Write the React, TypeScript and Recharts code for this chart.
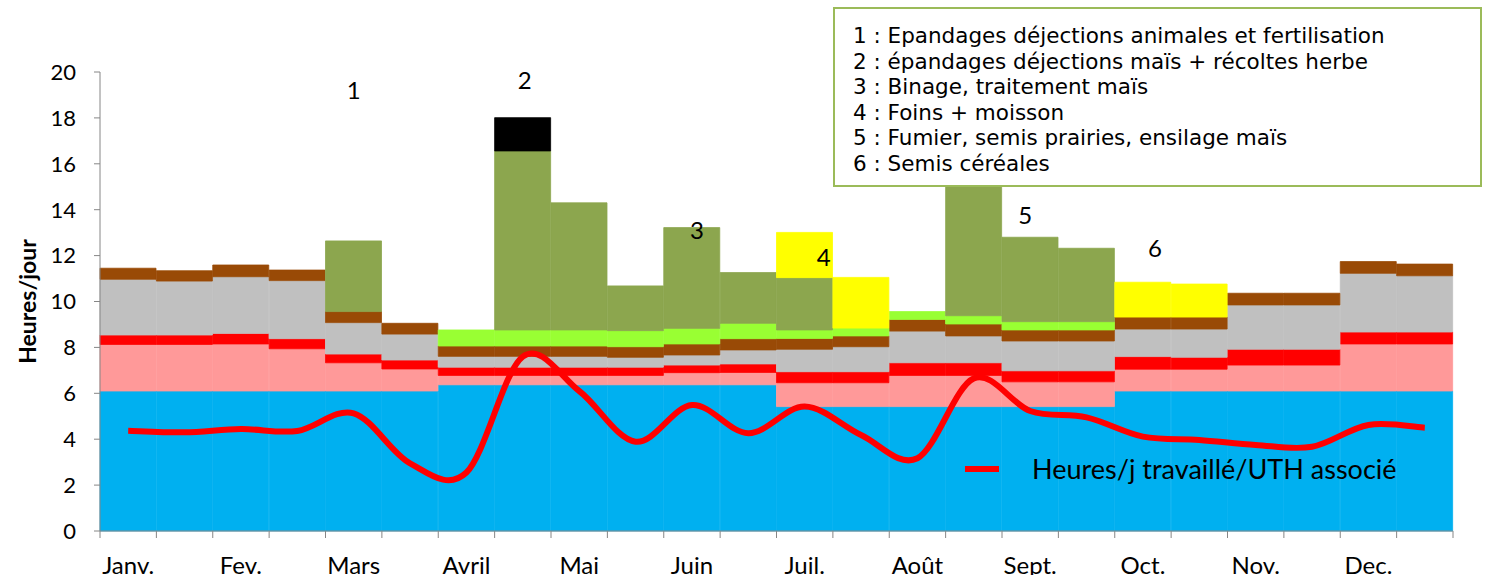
import React from 'react';
import { ComposedChart, Bar, Line, XAxis, YAxis, Legend, ReferenceDot } from 'recharts';

// half-month periods, one bar each
const months = ['Janv.', 'Fev.', 'Mars', 'Avril', 'Mai', 'Juin', 'Juil.', 'Août', 'Sept.', 'Oct.', 'Nov.', 'Dec.'];
const periods = months.flatMap((m) => [`${m} 1`, `${m} 2`]);

// stacked layers, bottom to top (hours/day)
const blueLayer = [6.1, 6.1, 6.1, 6.1, 6.1, 6.1, 6.37, 6.37, 6.37, 6.37, 6.37, 6.37, 5.42, 5.42, 5.42, 5.42, 5.42, 5.42, 6.1, 6.1, 6.1, 6.1, 6.1, 6.1];
const pinkLayer = [2.03, 2.03, 2.05, 1.84, 1.23, 0.96, 0.41, 0.41, 0.41, 0.41, 0.53, 0.54, 1.04, 1.04, 1.36, 1.36, 1.08, 1.08, 0.95, 0.95, 1.13, 1.13, 2.05, 2.05];
const redLayer = [0.41, 0.41, 0.46, 0.44, 0.38, 0.39, 0.36, 0.36, 0.36, 0.36, 0.33, 0.37, 0.48, 0.48, 0.55, 0.55, 0.48, 0.48, 0.55, 0.52, 0.69, 0.69, 0.52, 0.52];
const grayLayer = [2.43, 2.35, 2.47, 2.53, 1.37, 1.13, 0.47, 0.47, 0.47, 0.43, 0.44, 0.61, 0.98, 1.09, 1.38, 1.17, 1.3, 1.3, 1.2, 1.23, 1.93, 1.93, 2.56, 2.45];
const brownLayer = [0.48, 0.45, 0.51, 0.46, 0.48, 0.47, 0.45, 0.45, 0.45, 0.46, 0.48, 0.49, 0.47, 0.47, 0.51, 0.52, 0.48, 0.48, 0.52, 0.52, 0.51, 0.51, 0.51, 0.51];
const limeLayer = [0, 0, 0, 0, 0, 0, 0.7, 0.7, 0.7, 0.7, 0.68, 0.67, 0.37, 0.34, 0.34, 0.36, 0.36, 0.36, 0, 0, 0, 0, 0, 0];
const oliveLayer = [0, 0, 0, 0, 3.08, 0, 0, 7.8, 5.54, 1.95, 4.39, 2.21, 2.28, 0, 0, 7.42, 3.68, 3.2, 0, 0, 0, 0, 0, 0];
const yellowLayer = [0, 0, 0, 0, 0, 0, 0, 0, 0, 0, 0, 0, 1.97, 2.21, 0, 0, 0, 0, 1.52, 1.44, 0, 0, 0, 0];
const blackLayer = [0, 0, 0, 0, 0, 0, 0, 1.45, 0, 0, 0, 0, 0, 0, 0, 0, 0, 0, 0, 0, 0, 0, 0, 0];

const uthHours = [4.37, 4.3, 4.44, 4.36, 5.13, 2.95, 2.55, 7.6, 6.1, 3.89, 5.49, 4.26, 5.42, 4.18, 3.17, 6.65, 5.23, 4.95, 4.11, 3.97, 3.75, 3.67, 4.62, 4.5];

const yTicks = [0, 2, 4, 6, 8, 10, 12, 14, 16, 18, 20];

// numbered work peaks
const peakLabels = ['1', '2', '3', '4', '5', '6'];
const peakPeriods = [4, 7, 10, 12, 16, 18];
const peakLevels = [19.2, 19.65, 13.1, 11.9, 13.75, 12.3];
const peakNudge = [0, 2, 5, 19, -5, 12];

const notes = [
  '1 : Epandages déjections animales et fertilisation',
  '2 : épandages déjections maïs + récoltes herbe',
  '3 : Binage, traitement maïs',
  '4 : Foins + moisson',
  '5 : Fumier, semis prairies, ensilage maïs',
  '6 : Semis céréales',
];

const data = periods.map((p, i) => ({
  period: p,
  blue: blueLayer[i],
  pink: pinkLayer[i],
  red: redLayer[i],
  gray: grayLayer[i],
  brown: brownLayer[i],
  lime: limeLayer[i],
  olive: oliveLayer[i],
  yellow: yellowLayer[i],
  black: blackLayer[i],
  uth: uthHours[i],
}));

const layers = [
  { key: 'blue', color: '#00B0F0' },
  { key: 'pink', color: '#FF9999' },
  { key: 'red', color: '#FF0000' },
  { key: 'gray', color: '#C0C0C0' },
  { key: 'brown', color: '#994A06' },
  { key: 'lime', color: '#99FF33' },
  { key: 'olive', color: '#8CA64E' },
  { key: 'yellow', color: '#FFFF00' },
  { key: 'black', color: '#000000' },
];

const W = 1489;
const H = 575;
const LEFT = 100;
const RIGHT = 36;
const PLOT_W = W - LEFT - RIGHT;
const BAND = PLOT_W / periods.length;
const TICK_SIZE = 7;
const TICK_MARGIN = 17;
const AXIS_GRAY = '#868686';
const FONT = 'Lato, "Open Sans", sans-serif';

// Excel-like smoothed line (Catmull-Rom as bezier)
function excelSmooth(context: any) {
  let pts: number[][] = [];
  return {
    areaStart() {},
    areaEnd() {},
    lineStart() {
      pts = [];
    },
    point(x: number, y: number) {
      pts.push([+x, +y]);
    },
    lineEnd() {
      const n = pts.length;
      if (!n) return;
      context.moveTo(pts[0][0], pts[0][1]);
      for (let i = 0; i < n - 1; i++) {
        const p0 = pts[Math.max(i - 1, 0)];
        const p1 = pts[i];
        const p2 = pts[i + 1];
        const p3 = pts[Math.min(i + 2, n - 1)];
        context.bezierCurveTo(
          p1[0] + (p2[0] - p0[0]) / 6,
          p1[1] + (p2[1] - p0[1]) / 6,
          p2[0] - (p3[0] - p1[0]) / 6,
          p2[1] - (p3[1] - p1[1]) / 6,
          p2[0],
          p2[1],
        );
      }
    },
  };
}

const PeriodTick = (props: any) => {
  const { x, y, index } = props;
  const axisY = y - TICK_SIZE - TICK_MARGIN;
  const left = x - BAND / 2;
  const right = x + BAND / 2;
  const label = index % 2 === 0 ? months[index / 2] : null;
  return (
    <g>
      <line x1={left} x2={left} y1={axisY} y2={axisY + TICK_SIZE} stroke={AXIS_GRAY} />
      {index === periods.length - 1 && (
        <line x1={right} x2={right} y1={axisY} y2={axisY + TICK_SIZE} stroke={AXIS_GRAY} />
      )}
      {label && (
        <text x={x} y={y} dy="0.8em" textAnchor="middle" fontFamily={FONT} fontSize={24} fill="#000">
          {label}
        </text>
      )}
    </g>
  );
};

const YTitle = (props: any) => {
  const { viewBox } = props;
  const cx = 36;
  const cy = viewBox.y + viewBox.height / 2;
  return (
    <text
      x={cx}
      y={cy}
      transform={`rotate(-90 ${cx} ${cy})`}
      textAnchor="middle"
      fontFamily={FONT}
      fontWeight="bold"
      fontSize={23}
      fill="#000"
    >
      Heures/jour
    </text>
  );
};

const renderLegend = () => (
  <div style={{ display: 'flex', alignItems: 'center', fontFamily: FONT, fontSize: 27, color: '#000', whiteSpace: 'nowrap' }}>
    <span style={{ display: 'inline-block', width: 34, height: 6, background: '#FF0000', marginRight: 33 }} />
    <span>Heures/j travaillé/UTH associé</span>
  </div>
);

export default function App() {
  return (
    <div style={{ position: 'absolute', left: 0, top: 0, width: W, height: H, background: '#fff' }}>
      <ComposedChart
        width={W}
        height={H}
        data={data}
        margin={{ top: 72, right: RIGHT, left: 0, bottom: 0 }}
        barCategoryGap={0}
        barGap={0}
      >
        <XAxis
          dataKey="period"
          height={44}
          interval={0}
          tickLine={false}
          tickSize={TICK_SIZE}
          tickMargin={TICK_MARGIN}
          axisLine={{ stroke: AXIS_GRAY }}
          tick={<PeriodTick />}
        />
        <YAxis
          width={LEFT}
          domain={[0, 20]}
          ticks={yTicks}
          interval={0}
          tickSize={6}
          tickMargin={18}
          axisLine={{ stroke: AXIS_GRAY }}
          tickLine={{ stroke: AXIS_GRAY }}
          tick={{ fontFamily: FONT, fontSize: 22, fill: '#000' }}
          label={<YTitle />}
        />
        {layers.map((l) => (
          <Bar
            key={l.key}
            dataKey={l.key}
            stackId="a"
            fill={l.color}
            stroke={l.color}
            strokeWidth={0.8}
            isAnimationActive={false}
            legendType="none"
          />
        ))}
        <Line
          dataKey="uth"
          name="Heures/j travaillé/UTH associé"
          type={excelSmooth as any}
          stroke="#FF0000"
          strokeWidth={6}
          dot={false}
          activeDot={false}
          isAnimationActive={false}
        />
        {peakLabels.map((t, i) => (
          <ReferenceDot
            key={t}
            x={periods[peakPeriods[i]]}
            y={peakLevels[i]}
            r={0}
            stroke="none"
            fill="none"
            label={{ value: t, position: 'center', dx: peakNudge[i], fontFamily: FONT, fontSize: 24, fill: '#000' }}
          />
        ))}
        <Legend
          layout="horizontal"
          verticalAlign="middle"
          align="center"
          content={renderLegend}
          wrapperStyle={{ position: 'absolute', left: 965, top: 452, width: 'auto' }}
        />
      </ComposedChart>
      <div
        style={{
          position: 'absolute',
          left: 833,
          top: 7,
          width: 649,
          height: 180,
          boxSizing: 'border-box',
          border: '2px solid #9BBB59',
          background: '#fff',
          paddingLeft: 18,
          paddingTop: 14,
          fontFamily: '"DejaVu Sans", Verdana, sans-serif',
          fontSize: 21.5,
          lineHeight: '25.5px',
          color: '#000',
          whiteSpace: 'nowrap',
        }}
      >
        {notes.map((n) => (
          <div key={n}>{n}</div>
        ))}
      </div>
    </div>
  );
}
